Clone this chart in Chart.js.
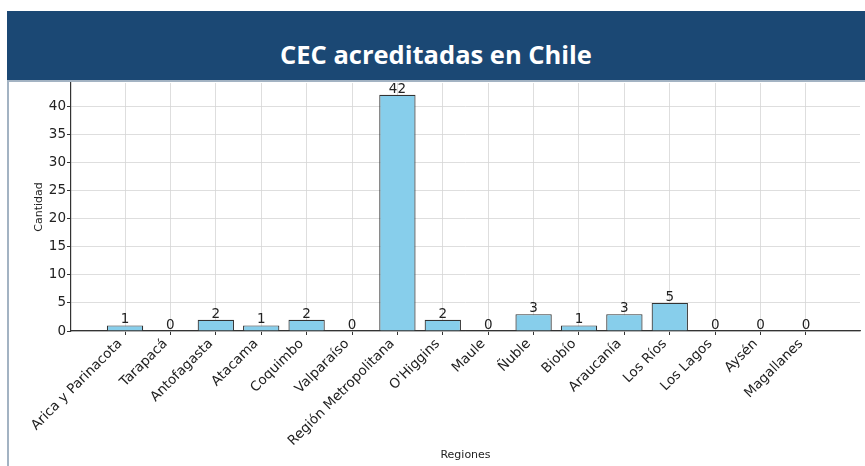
<!DOCTYPE html>
<html>
<head>
<meta charset="utf-8">
<script src="https://cdn.jsdelivr.net/npm/chart.js@4"></script>
<style>
  body { margin: 0; background: #fff; width: 865px; height: 466px; overflow: hidden; position: relative; }
  #banner {
    position: absolute; left: 7px; top: 11px; width: 858px; height: 69px;
    background: #1b4874; color: #fff;
    font-family: "Open Sans", sans-serif; font-weight: 700; font-size: 25.5px;
    display: flex; align-items: center; justify-content: center;
    padding-top: 17px; box-sizing: border-box;
  }
  #frame {
    position: absolute; left: 7px; top: 80px; width: 858px; height: 386px;
    border-left: 2px solid #a3b3c3; border-top: 2px solid #a3b3c3; box-sizing: border-box;
  }
  #wrap { position: absolute; left: 9px; top: 82px; width: 856px; height: 384px; }
</style>
</head>
<body>
<div id="banner">CEC acreditadas en Chile</div>
<div id="frame"></div>
<div id="wrap"><canvas id="cecChart"></canvas></div>
<script>
// Regiones y cantidad de CEC acreditadas
const regiones = ['Arica y Parinacota', 'Tarapacá', 'Antofagasta', 'Atacama', 'Coquimbo', 'Valparaíso',
  'Región Metropolitana', "O'Higgins", 'Maule', 'Ñuble', 'Biobío', 'Araucanía', 'Los Ríos', 'Los Lagos',
  'Aysén', 'Magallanes'];
const cantidades = [1, 0, 2, 1, 2, 0, 42, 2, 0, 3, 1, 3, 5, 0, 0, 0];
const yTicks = [0, 5, 10, 15, 20, 25, 30, 35, 40];

const fuente = 'DejaVu Sans';
const gris = '#333333';
const grid = '#d6d6d6';

// etiqueta con el valor arriba de cada barra
const etiquetas = {
  id: 'etiquetas',
  afterDatasetsDraw(chart) {
    const c = chart.ctx;
    const meta = chart.getDatasetMeta(0);
    c.save();
    c.font = '13.5px "' + fuente + '"';
    c.fillStyle = '#222';
    c.textAlign = 'center';
    c.textBaseline = 'alphabetic';
    meta.data.forEach((bar, i) => {
      c.fillText(String(cantidades[i]), bar.x, bar.y - 2);
    });
    c.restore();
  }
};

const n = regiones.length;
const margen = (n - 0.2) * 0.05 + 0.4;
const yMax = Math.max(...cantidades) * 1.05;

const sinPadding = axis => {
  axis.paddingTop = 0; axis.paddingBottom = 0;
  axis.paddingLeft = 0; axis.paddingRight = 0;
};

const rejilla = {
  color: grid,
  lineWidth: 0.8,
  borderDash: [3, 3],
  tickLength: 4,
  tickColor: gris,
  tickBorderDash: [],
  tickWidth: 1
};

new Chart(document.getElementById('cecChart'), {
  type: 'bar',
  data: {
    datasets: [{
      label: 'Cantidad',
      data: cantidades.map((v, i) => ({ x: i, y: v })),
      backgroundColor: '#87ceeb',
      borderColor: gris,
      borderWidth: 1.2,
      barPercentage: 1,
      categoryPercentage: 0.8
    }]
  },
  options: {
    responsive: true,
    maintainAspectRatio: false,
    animation: false,
    layout: { padding: { left: 20, top: 1, right: 5, bottom: 0 } },
    plugins: { legend: { display: false }, tooltip: { enabled: false } },
    scales: {
      x: {
        type: 'linear',
        offset: false,
        min: -margen,
        max: n - 1 + margen,
        afterBuildTicks: axis => { axis.ticks = regiones.map((_, i) => ({ value: i })); },
        afterFit: axis => { axis.height = 135; sinPadding(axis); },
        ticks: {
          autoSkip: false,
          maxRotation: 45,
          minRotation: 45,
          padding: 1,
          labelOffset: -5,
          color: '#222',
          font: { family: fuente, size: 13.5 },
          callback: v => regiones[v]
        },
        grid: Object.assign({ offset: false }, rejilla),
        border: { display: true, color: gris, width: 1.2 },
        title: {
          display: true,
          text: 'Regiones',
          color: '#222',
          font: { family: fuente, size: 11 }
        }
      },
      y: {
        min: 0,
        max: yMax,
        afterBuildTicks: axis => { axis.ticks = yTicks.map(v => ({ value: v })); },
        afterFit: axis => { axis.width = 42; sinPadding(axis); },
        ticks: {
          padding: 1,
          color: '#222',
          font: { family: fuente, size: 13.5 }
        },
        grid: rejilla,
        border: { display: true, color: gris, width: 1.2 },
        title: {
          display: true,
          text: 'Cantidad',
          color: '#222',
          font: { family: fuente, size: 11 }
        }
      }
    }
  },
  plugins: [etiquetas]
});
</script>
</body>
</html>
